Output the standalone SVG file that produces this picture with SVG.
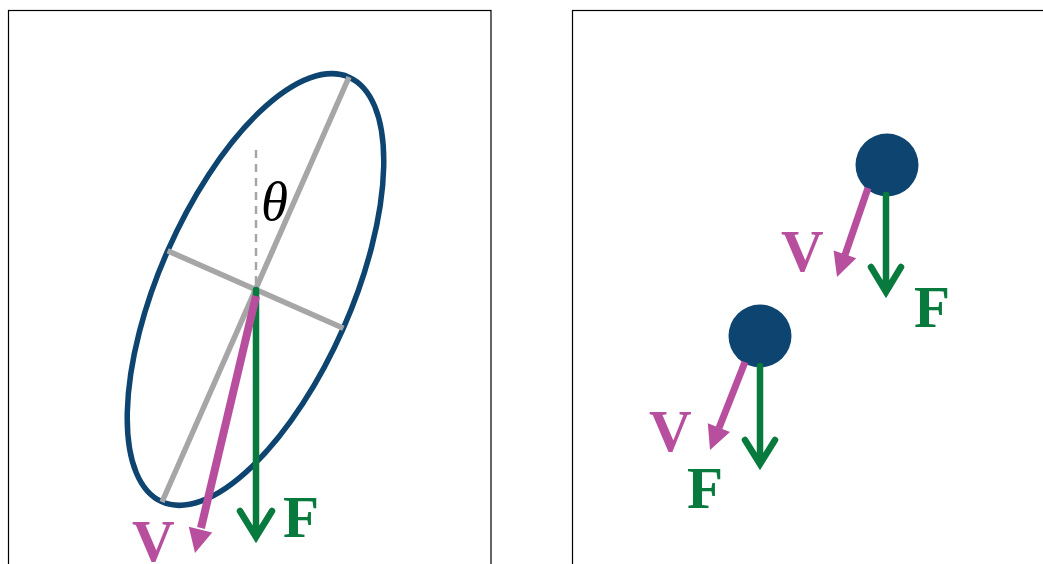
<svg xmlns="http://www.w3.org/2000/svg" width="1043" height="564" viewBox="0 0 1043 564">
<style>
.frame{fill:none;stroke:#000;stroke-width:1.2}
.axis{stroke:#a6a6a6;stroke-width:5.5;fill:none}
.dash{stroke:#a6a6a6;stroke-width:2.5;stroke-dasharray:8 6;fill:none}
.body{fill:#0e4470}
.ell{fill:none;stroke:#0e4470;stroke-width:5.5}
.f{stroke:#087a3e;stroke-width:6.5;fill:none;stroke-linecap:round;stroke-linejoin:miter}
.vl{stroke:#b84f9e;fill:none}
.vh{fill:#b84f9e}
.lf{font-family:"Liberation Serif",serif;font-weight:bold;font-size:59px;fill:#087a3e}
.lv{font-family:"Liberation Serif",serif;font-weight:bold;font-size:59px;fill:#b84f9e}
.th{font-family:"Liberation Serif",serif;font-style:italic;font-size:55px;fill:#000}
</style>
<rect class="frame" x="8.5" y="10.5" width="482.5" height="560"/>
<rect class="frame" x="572.5" y="10.5" width="480" height="560"/>
<g id="ellipse-body">
<ellipse class="ell" cx="255.5" cy="289.5" rx="96" ry="232" transform="rotate(23.75 255.5 289.5)"/>
<line class="axis" x1="349" y1="77" x2="162" y2="502"/>
<line class="axis" x1="167.6" y1="250.8" x2="343.4" y2="328.2"/>
<line class="dash" x1="256" y1="150" x2="256" y2="290"/>
<text class="th" x="261" y="220">θ</text>
</g>
<g id="sphere-top"><circle class="body" cx="887" cy="165" r="31.5"/></g>
<g id="sphere-bottom"><circle class="body" cx="760" cy="336" r="31.5"/></g>
<g id="connectors">
<path class="f" d="M256 290V536M240 511L256 537L272 511"/>
<line class="vl" stroke-width="8" x1="256" y1="296" x2="201" y2="528"/>
<polygon class="vh" points="195,553 188.8,526.8 212.2,532.4"/>
<path class="f" d="M886 195V291M871 267L886 292L901 267"/>
<line class="vl" stroke-width="7" x1="868" y1="188" x2="845" y2="255"/>
<polygon class="vh" points="837,277 833.6,250.4 856.2,258.2"/>
<path class="f" d="M760 366V463M745 440L760 464L775 440"/>
<line class="vl" stroke-width="7" x1="745" y1="362" x2="719" y2="428"/>
<polygon class="vh" points="710,450 707.8,423.3 730,432.1"/>
</g>
<g id="labels">
<text class="lf" x="283" y="537">F</text>
<text class="lv" x="132" y="561">V</text>
<text class="lv" x="781" y="271">V</text>
<text class="lf" x="914" y="327">F</text>
<text class="lv" x="649" y="451">V</text>
<text class="lf" x="687" y="508">F</text>
</g>
</svg>
